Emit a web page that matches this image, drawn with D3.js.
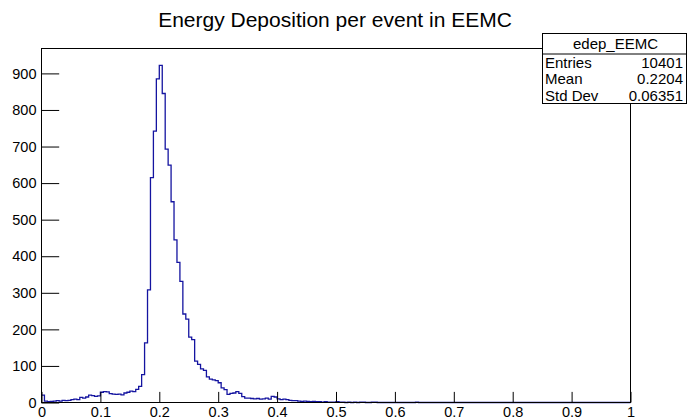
<!DOCTYPE html>
<html>
<head>
<meta charset="utf-8">
<script src="https://cdn.jsdelivr.net/npm/d3@7"></script>
<style>
  body { margin: 0; background: #fff; }
  text { font-family: "Liberation Sans", Arial, Helvetica, sans-serif; }
</style>
</head>
<body>
<svg id="chart" width="687" height="419"></svg>
<script>
const title = "Energy Deposition per event in EEMC"
const xRange = [0, 1]
// 200 bins of 0.005
const counts = [
    20, 4, 2, 3, 4, 5, 4, 6, 5, 6,
    8, 9, 8, 14, 12, 15, 20, 19, 17, 18,
    28, 30, 29, 24, 23, 22, 23, 21, 26, 28,
    31, 30, 36, 44, 76, 163, 308, 615, 742, 885,
    922, 845, 693, 649, 549, 445, 383, 331, 242, 228,
    179, 172, 113, 104, 92, 88, 70, 64, 62, 60,
    54, 40, 35, 22, 25, 26, 30, 25, 16, 12,
    12, 11, 10, 11, 9, 10, 12, 9, 17, 15,
    10, 8, 9, 8, 6, 5, 5, 4, 3, 4,
    3, 2, 3, 2, 2, 1, 2, 1, 1, 1,
    2, 1, 1, 0, 1, 0, 1, 0, 1, 1,
    0, 0, 1, 1, 0, 0, 0, 0, 0, 0,
    0, 0, 0, 0, 0, 0, 0, 1, 0, 0,
    0, 0, 0, 0, 0, 0, 0, 0, 0, 0,
    0, 0, 0, 0, 0, 0, 0, 0, 0, 0,
    0, 0, 0, 0, 0, 0, 0, 0, 0, 0,
    0, 0, 0, 0, 0, 0, 0, 0, 0, 0,
    0, 0, 0, 0, 0, 0, 0, 0, 0, 0,
    0, 0, 0, 0, 0, 0, 0, 0, 0, 0,
    0, 0, 0, 0, 0, 0, 0, 0, 0, 0
]
const xTicks = [0, 0.1, 0.2, 0.3, 0.4, 0.5, 0.6, 0.7, 0.8, 0.9, 1]
const xTickLabels = ["0", "0.1", "0.2", "0.3", "0.4", "0.5", "0.6", "0.7", "0.8", "0.9", "1"]
const yTicks = [0, 100, 200, 300, 400, 500, 600, 700, 800, 900]
const yTickLabels = ["0", "100", "200", "300", "400", "500", "600", "700", "800", "900"]
const statsName = "edep_EEMC"
const statsLabels = ["Entries", "Mean", "Std Dev"]
const statsValues = ["10401", "0.2204", "0.06351"]

function draw() {
    const svg = d3.select("#chart")
    const frame = { left: 41.5, right: 630.5, top: 48.5, bottom: 402.5 }
    const binWidth = (xRange[1] - xRange[0]) / counts.length
    const yMax = d3.max(counts) * 1.05

    const x = d3.scaleLinear().domain(xRange).range([frame.left, frame.right])
    const y = d3.scaleLinear().domain([0, yMax]).range([frame.bottom, frame.top])

    svg.append("rect")
        .attr("width", 687).attr("height", 419).attr("fill", "#fff")

    svg.append("text")
        .attr("x", 335).attr("y", 27)
        .attr("text-anchor", "middle")
        .style("font-size", "21px")
        .attr("fill", "#000")
        .text(title)

    // histogram
    const pts = counts.map((c, i) => ({ x: xRange[0] + i * binWidth, y: c }))
    pts.push({ x: xRange[1], y: counts[counts.length - 1] })
    const step = d3.line()
        .x(d => x(d.x))
        .y(d => y(d.y))
        .curve(d3.curveStepAfter)
    svg.append("path")
        .datum(pts)
        .attr("fill", "none")
        .attr("stroke", "#1414a0")
        .attr("stroke-width", 1.3)
        .attr("d", step)

    // axes, ticks pointing inward like ROOT
    const xMinor = d3.range(0, 51).map(i => i * 0.02).filter(v => !xTicks.some(t => Math.abs(t - v) < 1e-9))
    const yMinor = d3.range(0, 49).map(i => i * 20).filter(v => v % 100 !== 0 && v <= yMax)

    const gx = svg.append("g").attr("transform", `translate(0, ${frame.bottom})`)
    gx.call(d3.axisBottom(x).tickValues(xMinor).tickFormat("").tickSize(-5.3).tickSizeOuter(0))
    gx.call(d3.axisBottom(x).tickValues(xTicks).tickFormat((d, i) => xTickLabels[i])
        .tickSize(-10.6).tickSizeOuter(0).tickPadding(4.5))

    const gy = svg.append("g").attr("transform", `translate(${frame.left}, 0)`)
    gy.call(d3.axisLeft(y).tickValues(yMinor).tickFormat("").tickSize(-8.8).tickSizeOuter(0))
    gy.call(d3.axisLeft(y).tickValues(yTicks).tickFormat((d, i) => yTickLabels[i])
        .tickSize(-17.7).tickSizeOuter(0).tickPadding(5))

    svg.selectAll(".domain").remove()
    svg.selectAll(".tick line").attr("stroke", "#000")
    svg.selectAll(".tick text")
        .attr("fill", "#000")
        .style("font-size", "14.5px")
        .style("font-family", '"Liberation Sans", Arial, sans-serif')

    svg.append("rect")
        .attr("x", frame.left).attr("y", frame.top)
        .attr("width", frame.right - frame.left)
        .attr("height", frame.bottom - frame.top)
        .attr("fill", "none").attr("stroke", "#000").attr("stroke-width", 1)

    // stats box
    const box = { x: 542.5, y: 33.5, w: 144, h: 70, head: 20.5 }
    const stats = svg.append("g")
    stats.append("rect")
        .attr("x", box.x).attr("y", box.y).attr("width", box.w).attr("height", box.h)
        .attr("fill", "#fff").attr("stroke", "#000")
    stats.append("line")
        .attr("x1", box.x).attr("x2", box.x + box.w)
        .attr("y1", box.y + box.head).attr("y2", box.y + box.head)
        .attr("stroke", "#000")
    stats.append("text")
        .attr("x", box.x + box.w / 2 + 1).attr("y", box.y + 10)
        .attr("dy", "0.35em").attr("text-anchor", "middle")
        .style("font-size", "15px").text(statsName)
    const rowH = (box.h - box.head) / statsLabels.length
    statsLabels.forEach((lab, i) => {
        const cy = box.y + box.head + rowH * (i + 0.5)
        stats.append("text")
            .attr("x", box.x + 2.5).attr("y", cy).attr("dy", "0.35em")
            .style("font-size", "15px").text(lab)
        stats.append("text")
            .attr("x", box.x + box.w - 3.5).attr("y", cy).attr("dy", "0.35em")
            .attr("text-anchor", "end")
            .style("font-size", "15px").text(statsValues[i])
    })
}

draw()
</script>
</body>
</html>
